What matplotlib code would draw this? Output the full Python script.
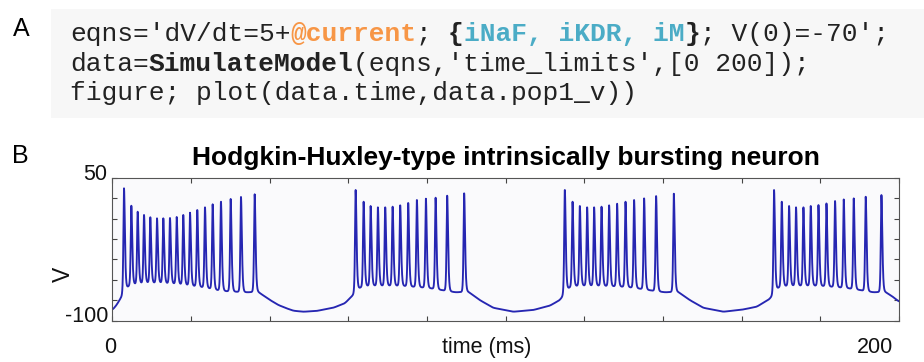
import numpy as np
import matplotlib
matplotlib.use("Agg")
import matplotlib.pyplot as plt
from matplotlib.patches import Rectangle

W, H, DPI = 924, 362, 100

# ---- recorded membrane potential of the bursting cell ----
# spike times (ms) and spike peak voltages (mV), one list per burst
burst_times = [
    [2.97, 4.83, 6.45, 8.06, 9.66, 11.36, 12.96, 14.66, 16.37, 18.04, 19.75,
     21.60, 23.56, 25.51, 27.62, 30.09, 32.71, 36.19],
    [61.86, 63.89, 65.67, 67.52, 69.38, 71.26, 73.19, 75.22, 77.43, 79.72,
     82.19, 85.13, 89.45],
    [115.04, 117.00, 118.86, 120.71, 122.49, 124.37, 126.30, 128.33, 130.47,
     132.65, 135.20, 138.25, 142.75],
    [168.23, 170.19, 172.05, 173.82, 175.70, 177.56, 179.52, 181.55, 183.74,
     185.95, 188.49, 191.53, 195.53],
]
burst_peaks = [
    [38.9, 20.6, 14.3, 10.9, 8.5, 7.4, 7.4, 7.7, 8.8, 10.9, 13.3, 16.1, 18.9,
     22.1, 24.8, 27.7, 29.8, 32.6],
    [37.1, 24.8, 20.3, 18.9, 18.9, 19.6, 21.0, 23.5, 26.6, 28.0, 29.0, 31.1, 33.6],
    [37.1, 24.8, 20.3, 18.9, 18.9, 19.6, 21.0, 22.7, 24.8, 26.6, 28.3, 30.7, 33.2],
    [37.1, 24.8, 20.3, 18.9, 18.9, 20.3, 21.3, 23.0, 25.5, 27.2, 28.3, 30.0, 31.8],
]
# after-hyperpolarisation minimum between consecutive spikes (mV)
burst_troughs = [
    [-64.3, -61.8, -60.8, -60.4, -60.4, -60.4, -60.8, -61.2, -61.8, -62.6,
     -63.6, -64.7, -66.0, -67.8, -69.0, -69.6, -70.2],
    [-65.4, -63.6, -63.3, -63.3, -63.3, -63.3, -63.6, -64.3, -65.0, -66.0, -67.8, -70.2],
    [-65.4, -63.6, -63.3, -63.3, -63.3, -63.6, -63.9, -64.3, -65.0, -66.3, -68.1, -70.2],
    [-65.4, -63.6, -63.3, -63.3, -63.3, -63.3, -63.6, -64.3, -65.0, -66.0, -67.8, -70.2],
]
# slow interburst trajectory (time ms, voltage mV)
onset_t = [0.0, 1.1, 2.1]
onset_v = [-88.8, -83.5, -76.5]
gap1_t = [37.0, 40.1, 42.2, 44.3, 46.0, 48.5, 51.9, 56.2, 59.1, 60.8]
gap1_v = [-69.6, -78.3, -83.5, -87.0, -89.5, -90.6, -89.8, -86.4, -81.8, -74.8]
gap2_t = [90.5, 93.4, 96.8, 101.9, 107.0, 111.2, 113.8]
gap2_v = [-69.6, -78.3, -86.4, -90.6, -88.8, -84.3, -78.3]
gap3_t = [143.8, 146.8, 150.2, 155.3, 160.0, 163.8, 167.1]
gap3_v = [-69.6, -78.3, -86.4, -90.6, -88.5, -85.4, -77.3]
tail_t = [196.4, 198.3, 200.0]
tail_v = [-69.6, -74.5, -80.0]

# ---- assemble the voltage trace ----
dt = 0.01
t = np.arange(0.0, 200.0 + dt / 2, dt)

anchor_t = list(onset_t)
anchor_v = list(onset_v)
gaps = [(gap1_t, gap1_v), (gap2_t, gap2_v), (gap3_t, gap3_v), (tail_t, tail_v)]
for times, troughs, (gt, gv) in zip(burst_times, burst_troughs, gaps):
    for k in range(len(times) - 1):
        anchor_t.append(times[k] + 0.5 * (times[k + 1] - times[k]))
        anchor_v.append(troughs[k])
    anchor_t.extend(gt)
    anchor_v.extend(gv)

base = np.interp(t, anchor_t, anchor_v)
win = int(0.5 / dt)
pad = np.pad(base, win, mode="edge")
base = np.convolve(pad, np.ones(2 * win + 1) / (2 * win + 1), mode="same")[win:-win]

# action potentials: sech^2 pulses, faster on the rising side
v = base.copy()
for times, peaks in zip(burst_times, burst_peaks):
    for ts, vp in zip(times, peaks):
        s = t - ts
        w = np.where(s < 0, 0.2, 0.3)
        amp = vp - np.interp(ts, t, base)
        v += amp / np.cosh(s / w) ** 2

# ---- figure ----
fig = plt.figure(figsize=(W / DPI, H / DPI), dpi=DPI)
fig.patch.set_facecolor("white")


def fx(x):
    return x / W


def fy(y):
    return 1 - y / H


# code listing
fig.patches.append(Rectangle((fx(50.7), fy(118.3)), fx(924 - 50.7), (118.3 - 9) / H,
                             transform=fig.transFigure, facecolor="#f7f7f7",
                             edgecolor="none", zorder=0))

FS = 18.9
CW = FS * DPI / 72 * 0.6
X0 = 70.0
ORANGE = "#f79646"
AQUA = "#4bacc6"
INK = "#222222"

code_lines = [
    (40.7, [("eqns='dV/dt=5+", INK, "normal"), ("@current", ORANGE, "bold"),
            ("; ", INK, "normal"), ("{", INK, "bold"), ("iNaF, iKDR, iM", AQUA, "bold"),
            ("}", INK, "bold"), ("; V(0)=-70';", INK, "normal")]),
    (71.0, [("data=", INK, "normal"), ("SimulateModel", INK, "bold"),
            ("(eqns,'time_limits',[0 200]);", INK, "normal")]),
    (100.0, [("figure; plot(data.time,data.pop1_v))", INK, "normal")]),
]
for yb, segs in code_lines:
    x = X0
    for txt, col, wt in segs:
        fig.text(fx(x), fy(yb), txt, family="Liberation Mono", fontsize=FS,
                 color=col, fontweight=wt, ha="left", va="baseline")
        x += len(txt) * CW

# panel letters
fig.text(fx(12.5), fy(35.7), "A", family="Liberation Sans", fontsize=18, ha="left", va="baseline")
fig.text(fx(11.5), fy(163.3), "B", family="Liberation Sans", fontsize=18, ha="left", va="baseline")

# voltage trace panel
L, R, T, B = 112.3, 899.0, 177.7, 320.7
ax = fig.add_axes([fx(L), fy(B), (R - L) / W, (B - T) / H])
ax.set_facecolor("#fafafc")
ax.plot(t, v, color="#2626b2", lw=1.35, solid_joinstyle="round")
ax.set_xlim(0, 200)
ax.set_ylim(-100, 50)
ax.set_xticks(np.arange(0, 201, 20))
ax.set_yticks(np.linspace(-100, 50, 8))
ax.set_xticklabels([])
ax.set_yticklabels([])
ax.tick_params(direction="in", length=3.5, width=0.8, colors="#444444",
               top=True, right=True)
for sp in ax.spines.values():
    sp.set_color("#555555")
    sp.set_linewidth(0.8)

ax.set_title("Hodgkin-Huxley-type intrinsically bursting neuron",
             family="Liberation Sans", fontweight="bold", fontsize=19, pad=9)

lab = dict(family="Liberation Sans", fontsize=15.5, color="#111111")
fig.text(fx(107), fy(180), "50", ha="right", va="baseline", **lab)
fig.text(fx(108), fy(321.5), "-100", ha="right", va="baseline", **lab)
fig.text(fx(110), fy(353.3), "0", ha="center", va="baseline", **lab)
fig.text(fx(875), fy(353.3), "200", ha="center", va="baseline", **lab)
fig.text(fx(487), fy(353.3), "time (ms)", ha="center", va="baseline", **lab)
fig.text(fx(63.5), fy(274), "V", ha="center", va="center", rotation=90,
         family="Liberation Sans", fontsize=16.5, color="#111111")

fig.savefig("out.png", dpi=DPI)
